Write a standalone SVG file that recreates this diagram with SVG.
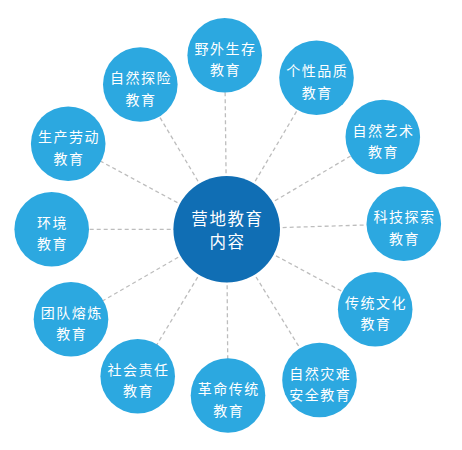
<svg xmlns="http://www.w3.org/2000/svg" width="462" height="450" viewBox="0 0 462 450">
<style>
.c{fill:#2ca8e0}
.m{fill:#106eb4}
.t{font-family:"Noto Sans CJK SC","Noto Sans",sans-serif;font-size:14px;fill:#fff;text-anchor:middle;letter-spacing:1.5px}
.tm{font-family:"Noto Sans CJK SC","Noto Sans",sans-serif;font-size:16.5px;fill:#fff;text-anchor:middle;letter-spacing:1.6px}
#edges line{stroke:#bdbdbd;stroke-width:1.3;stroke-dasharray:4 3}
</style>
<rect width="462" height="450" fill="#fff"/>
<g id="edges">
<line x1="226.7" y1="229.3" x2="224.7" y2="55.3"/>
<line x1="226.7" y1="229.3" x2="316.5" y2="77.8"/>
<line x1="226.7" y1="229.3" x2="382.8" y2="137"/>
<line x1="226.7" y1="229.3" x2="403.8" y2="223.8"/>
<line x1="226.7" y1="229.3" x2="375.2" y2="309.2"/>
<line x1="226.7" y1="229.3" x2="319.5" y2="380"/>
<line x1="226.7" y1="229.3" x2="228" y2="395.5"/>
<line x1="226.7" y1="229.3" x2="137.7" y2="376.2"/>
<line x1="226.7" y1="229.3" x2="71" y2="319.2"/>
<line x1="226.7" y1="229.3" x2="51.7" y2="229.3"/>
<line x1="226.7" y1="229.3" x2="68.2" y2="143.7"/>
<line x1="226.7" y1="229.3" x2="140.3" y2="84.5"/>
</g>
<g id="center"><circle class="m" cx="226.7" cy="229.3" r="53.3"/><text class="tm" x="227.5" y="224.5">营地教育</text><text class="tm" x="227.5" y="248">内容</text></g>
<g id="n1"><circle class="c" cx="224.7" cy="55.3" r="37.3"/><text class="t" x="225.5" y="53.8">野外生存</text><text class="t" x="225.5" y="75.3">教育</text></g>
<g id="n2"><circle class="c" cx="316.5" cy="77.8" r="37.3"/><text class="t" x="317.3" y="76.3">个性品质</text><text class="t" x="317.3" y="97.8">教育</text></g>
<g id="n3"><circle class="c" cx="382.8" cy="137" r="37.3"/><text class="t" x="383.6" y="135.5">自然艺术</text><text class="t" x="383.6" y="157">教育</text></g>
<g id="n4"><circle class="c" cx="403.8" cy="223.8" r="37.3"/><text class="t" x="404.6" y="222.3">科技探索</text><text class="t" x="404.6" y="243.8">教育</text></g>
<g id="n5"><circle class="c" cx="375.2" cy="309.2" r="37.3"/><text class="t" x="376" y="307.7">传统文化</text><text class="t" x="376" y="329.2">教育</text></g>
<g id="n6"><circle class="c" cx="319.5" cy="380" r="37.3"/><text class="t" x="320.3" y="378.5">自然灾难</text><text class="t" x="320.3" y="400">安全教育</text></g>
<g id="n7"><circle class="c" cx="228" cy="395.5" r="37.3"/><text class="t" x="228.8" y="394">革命传统</text><text class="t" x="228.8" y="415.5">教育</text></g>
<g id="n8"><circle class="c" cx="137.7" cy="376.2" r="37.3"/><text class="t" x="138.5" y="374.7">社会责任</text><text class="t" x="138.5" y="396.2">教育</text></g>
<g id="n9"><circle class="c" cx="71" cy="319.2" r="37.3"/><text class="t" x="71.8" y="317.7">团队熔炼</text><text class="t" x="71.8" y="339.2">教育</text></g>
<g id="n10"><circle class="c" cx="51.7" cy="229.3" r="37.3"/><text class="t" x="52.5" y="227.8">环境</text><text class="t" x="52.5" y="249.3">教育</text></g>
<g id="n11"><circle class="c" cx="68.2" cy="143.7" r="37.3"/><text class="t" x="69" y="142.2">生产劳动</text><text class="t" x="69" y="163.7">教育</text></g>
<g id="n12"><circle class="c" cx="140.3" cy="84.5" r="37.3"/><text class="t" x="141.1" y="83">自然探险</text><text class="t" x="141.1" y="104.5">教育</text></g>
</svg>
